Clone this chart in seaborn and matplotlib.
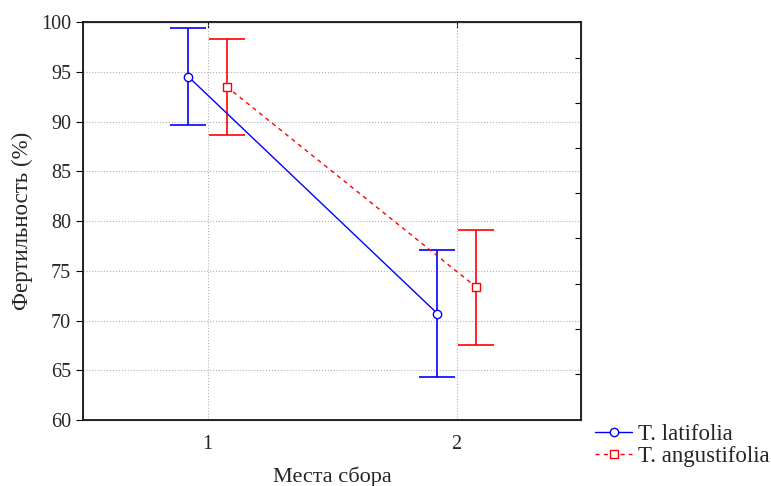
import numpy as np
import pandas as pd
import matplotlib
matplotlib.use('Agg')
import matplotlib.pyplot as plt
import seaborn as sns

# Data
sites = [1, 2]
species = ['T. latifolia', 'T. angustifolia']
latifolia_mean = [94.5, 70.7]
latifolia_low = [89.6, 64.3]
latifolia_high = [99.4, 77.1]
angustifolia_mean = [93.5, 73.4]
angustifolia_low = [88.6, 67.5]
angustifolia_high = [98.3, 79.1]

colors = {'T. latifolia': '#0000ff', 'T. angustifolia': '#ff0000'}
markers = {'T. latifolia': 'o', 'T. angustifolia': 's'}
offsets = {'T. latifolia': -0.077, 'T. angustifolia': 0.077}

df = pd.DataFrame({
    'site': sites * 2,
    'species': [species[0]] * 2 + [species[1]] * 2,
    'mean': latifolia_mean + angustifolia_mean,
    'low': latifolia_low + angustifolia_low,
    'high': latifolia_high + angustifolia_high,
})
df['xpos'] = df['site'] + df['species'].map(offsets)

sns.set_style('white')
plt.rcParams['font.family'] = ['Liberation Serif', 'DejaVu Serif']

fig = plt.figure(figsize=(7.71, 4.86), dpi=100)
ax = fig.add_axes([0.1077, 0.1358, 0.6459, 0.8189])

for sp in species:
    sub = df[df['species'] == sp]
    ax.errorbar(sub['xpos'], sub['mean'],
                yerr=[sub['mean'] - sub['low'], sub['high'] - sub['mean']],
                fmt='none', ecolor=colors[sp], color=colors[sp],
                elinewidth=1.2, capsize=13, capthick=1.2, zorder=3)

sns.lineplot(data=df, x='xpos', y='mean', hue='species', style='species',
             palette=colors, markers=markers,
             dashes={'T. latifolia': '', 'T. angustifolia': (3, 3)},
             markerfacecolor='white', markeredgewidth=1.0, markersize=6,
             linewidth=1.0, ax=ax, zorder=4)
for line in ax.get_lines():
    line.set_markeredgecolor(line.get_color())

ax.set_xlim(0.5, 2.5)
ax.set_ylim(60, 100)
ax.set_xticks(sites)
ax.set_xticklabels([str(s) for s in sites])
ax.set_yticks(np.arange(60, 101, 5))
ax.grid(True, color='#b0b0b0', linestyle=':', linewidth=0.8)
ax.set_axisbelow(True)
for s in ax.spines.values():
    s.set_color('black')
    s.set_linewidth(1.2)
ax.tick_params(axis='both', direction='out', length=5, color='black', labelsize=14.5)
ax.tick_params(axis='x', pad=6)

ax.set_xlabel('Места сбора', fontsize=16, labelpad=9)
ax.set_ylabel('Фертильность (%)', fontsize=16.5, labelpad=6)

# ticks on the top and right frame
top = ax.secondary_xaxis('top')
top.set_xticks(sites)
top.set_xticklabels([])
top.tick_params(direction='in', length=4, color='black')
right = ax.twinx()
right.set_ylim(60, 100)
right.set_yticks([96.38, 91.86, 87.34, 82.81, 78.3, 73.67, 69.15, 64.6])
right.set_yticklabels([])
right.tick_params(direction='in', length=4, color='black')
right.grid(False)

handles, labels = ax.get_legend_handles_labels()
ax.legend(handles, labels, loc='upper left', bbox_to_anchor=(1.01, 0.014),
          frameon=False, fontsize=16.5, handlelength=1.6, handletextpad=0.25,
          labelspacing=0.05, borderaxespad=0)

fig.savefig('out.png', dpi=100)
